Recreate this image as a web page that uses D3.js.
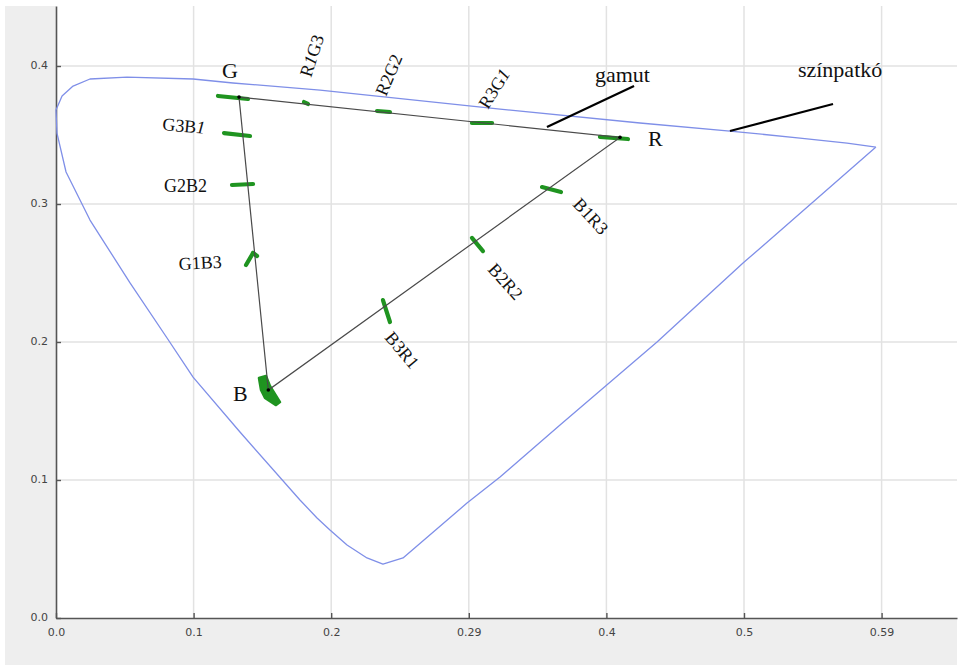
<!DOCTYPE html>
<html>
<head>
<meta charset="utf-8">
<script src="https://cdn.jsdelivr.net/npm/d3@7/dist/d3.min.js"></script>
<style>
  html, body { margin: 0; padding: 0; background: #ffffff; }
  svg { display: block; }
</style>
</head>
<body>
<svg id="chart" width="962" height="665"></svg>
<script>
// ---------------- DATA ----------------
const uTicks = [0, 0.1, 0.2, 0.3, 0.4, 0.5, 0.6];
const uTickLabels = ["0.0", "0.1", "0.2", "0.29", "0.4", "0.5", "0.59"];
const vTicks = [0, 0.1, 0.2, 0.3, 0.4];
const vTickLabels = ["0.0", "0.1", "0.2", "0.3", "0.4"];

// spectral locus ("színpatkó") outline, u / v
const locusU = [0.5959, 0.5749, 0.5407, 0.4898, 0.4244, 0.3227, 0.1919, 0.1286, 0.0996, 0.0516,
                0.0247, 0.0124, 0.0044, 0.0000, 0.0007, 0.0073, 0.0247, 0.0538, 0.0807, 0.0996,
                0.1337, 0.1773, 0.1897, 0.1991, 0.2115, 0.2260, 0.2376, 0.2522, 0.2987, 0.3227,
                0.3663, 0.4368, 0.4993, 0.5959];
const locusV = [0.3413, 0.3442, 0.3478, 0.3529, 0.3587, 0.3688, 0.3826, 0.3877, 0.3906, 0.3920,
                0.3906, 0.3855, 0.3783, 0.3681, 0.3514, 0.3232, 0.2884, 0.2428, 0.2029, 0.1746,
                0.1348, 0.0855, 0.0725, 0.0638, 0.0529, 0.0435, 0.0391, 0.0435, 0.0833, 0.1022,
                0.1399, 0.2000, 0.2572, 0.3413];

// gamut triangle primaries
const primaries = ["G", "R", "B"];
const primaryU = [0.1330, 0.4099, 0.1543];
const primaryV = [0.3775, 0.3483, 0.1652];

// measured (green) marks: short strokes u1,v1 -> u2,v2
const markNames = ["G", "R1G3", "R2G2", "R3G1", "R", "G3B1", "G2B2", "G1B3", "G1B3b", "B1R3", "B2R2", "B3R1"];
const markU1 = [0.1177, 0.1802, 0.2333, 0.3023, 0.3953, 0.1221, 0.1279, 0.1381, 0.1432, 0.3532, 0.3023, 0.2376];
const markV1 = [0.3783, 0.3739, 0.3674, 0.3587, 0.3486, 0.3514, 0.3138, 0.2558, 0.2645, 0.3123, 0.2754, 0.2304];
const markU2 = [0.1395, 0.1831, 0.2427, 0.3169, 0.4157, 0.1410, 0.1432, 0.1432, 0.1461, 0.3670, 0.3103, 0.2427];
const markV2 = [0.3761, 0.3725, 0.3667, 0.3587, 0.3471, 0.3493, 0.3145, 0.2645, 0.2623, 0.3087, 0.2659, 0.2145];

// blue primary measured cluster (blob outline)
const blobU = [0.1475, 0.1526, 0.1555, 0.1628, 0.1599, 0.1519, 0.1490];
const blobV = [0.1739, 0.1754, 0.1681, 0.1565, 0.1543, 0.1594, 0.1652];

// ---------------- LAYOUT ----------------
const W = 962, H = 665;
const plot = { left: 56, top: 6, right: 957, bottom: 618 };
const x = d3.scaleLinear().domain([0, 0.6548]).range([plot.left, plot.right]);
const y = d3.scaleLinear().domain([0, 0.4435]).range([plot.bottom, plot.top]);

const svg = d3.select("#chart");

// outer gray panel
svg.append("rect").attr("x", 5).attr("y", 6).attr("width", plot.right - 5).attr("height", H - 6)
  .attr("fill", "#eeeeee");
// plot area
svg.append("rect").attr("x", plot.left).attr("y", plot.top)
  .attr("width", plot.right - plot.left).attr("height", plot.bottom - plot.top).attr("fill", "#ffffff");

// grid
const grid = svg.append("g");
grid.selectAll("line.gx").data(uTicks.slice(1)).join("line")
  .attr("x1", d => x(d)).attr("x2", d => x(d)).attr("y1", plot.top).attr("y2", plot.bottom)
  .attr("stroke", "#e2e2e2").attr("stroke-width", 1.5);
grid.selectAll("line.gy").data(vTicks.slice(1)).join("line")
  .attr("y1", d => y(d)).attr("y2", d => y(d)).attr("x1", plot.left).attr("x2", plot.right)
  .attr("stroke", "#e2e2e2").attr("stroke-width", 1.5);

// axes
const xAxis = d3.axisBottom(x).tickValues(uTicks).tickSizeInner(-5).tickSizeOuter(0).tickPadding(10)
  .tickFormat((d, i) => uTickLabels[i]);
const yAxis = d3.axisLeft(y).tickValues(vTicks).tickSizeInner(-5).tickSizeOuter(0).tickPadding(8)
  .tickFormat((d, i) => vTickLabels[i]);

const gx = svg.append("g").attr("transform", `translate(0,${plot.bottom})`).call(xAxis);
const gy = svg.append("g").attr("transform", `translate(${plot.left},0)`).call(yAxis);
[gx, gy].forEach(g => {
  g.select(".domain").attr("stroke", "#555").attr("stroke-width", 1.6);
  g.selectAll(".tick line").attr("stroke", "#555").attr("stroke-width", 1.4);
  g.selectAll(".tick text").attr("fill", "#444").attr("font-family", "'DejaVu Sans', sans-serif")
    .attr("font-size", 11);
});
gy.selectAll(".tick text").attr("dy", "0.25em");

// spectral locus
const locusPts = locusU.map((u, i) => [u, locusV[i]]);
svg.append("path").datum(locusPts)
  .attr("d", d3.line().x(d => x(d[0])).y(d => y(d[1])))
  .attr("fill", "none").attr("stroke", "#7f8fe8").attr("stroke-width", 1.3)
  .attr("stroke-linejoin", "round");

// green measured marks
const marks = markNames.map((n, i) => [[markU1[i], markV1[i]], [markU2[i], markV2[i]]]);
svg.append("g").selectAll("path").data(marks).join("path")
  .attr("d", d3.line().x(d => x(d[0])).y(d => y(d[1])))
  .attr("fill", "none").attr("stroke", "#1f9420").attr("stroke-width", 4.2)
  .attr("stroke-linecap", "round");
const blobPts = blobU.map((u, i) => [u, blobV[i]]);
svg.append("path").datum(blobPts)
  .attr("d", d3.line().x(d => x(d[0])).y(d => y(d[1])).curve(d3.curveLinearClosed))
  .attr("fill", "#1f9420").attr("stroke", "#1f9420").attr("stroke-width", 2.5)
  .attr("stroke-linejoin", "round");

// gamut triangle
const triPts = primaryU.map((u, i) => [u, primaryV[i]]);
svg.append("path").datum(triPts)
  .attr("d", d3.line().x(d => x(d[0])).y(d => y(d[1])).curve(d3.curveLinearClosed))
  .attr("fill", "none").attr("stroke", "#4a4a4a").attr("stroke-width", 1.2);
svg.append("g").selectAll("circle").data(triPts).join("circle")
  .attr("cx", d => x(d[0])).attr("cy", d => y(d[1])).attr("r", 1.8).attr("fill", "#000");

// ---------------- ANNOTATIONS ----------------
const serif = "'Liberation Serif', 'Times New Roman', serif";
const ann = svg.append("g").attr("font-family", serif).attr("fill", "#111");

// primary letters: [text, u, v]
const primaryLabels = [["G", 0.1206, 0.3913], ["R", 0.4302, 0.3420], ["B", 0.1286, 0.1572]];
ann.selectAll("text.p").data(primaryLabels).join("text")
  .attr("x", d => x(d[1])).attr("y", d => y(d[2])).attr("font-size", 22).text(d => d[0]);

// mixed-point labels: [parts, u, v, angle]
const mixLabels = [
  [["G3B", "1"], 0.0770, 0.3536, 5],
  [["G2B2"], 0.0785, 0.3087, 0],
  [["G1B3"], 0.0894, 0.2522, -3],
  [["R", "1", "G3"], 0.1853, 0.3913, -72],
  [["R2G2"], 0.2398, 0.3775, -67],
  [["R3G", "1"], 0.3140, 0.3681, -58],
  [["B1R3"], 0.3750, 0.2993, 47],
  [["B2R2"], 0.3132, 0.2522, 48],
  [["B3R1"], 0.2384, 0.2029, 50]
];
mixLabels.forEach(l => {
  const t = ann.append("text")
    .attr("transform", `translate(${x(l[1])},${y(l[2])}) rotate(${l[3]})`)
    .attr("font-size", 18);
  l[0].forEach(p => {
    t.append("tspan").attr("font-style", p === "1" ? "italic" : "normal").text(p);
  });
});

// callouts: [text, labelU, labelV, lineU1, lineV1, lineU2, lineV2]
const callouts = [
  ["gamut", 0.3917, 0.3884, 0.3568, 0.3558, 0.4201, 0.3855],
  ["színpatkó", 0.5392, 0.3920, 0.4898, 0.3529, 0.5647, 0.3725]
];
callouts.forEach(c => {
  ann.append("text").attr("x", x(c[1])).attr("y", y(c[2])).attr("font-size", 22).text(c[0]);
  svg.append("line").attr("x1", x(c[3])).attr("y1", y(c[4])).attr("x2", x(c[5])).attr("y2", y(c[6]))
    .attr("stroke", "#000").attr("stroke-width", 2.2);
});
</script>
</body>
</html>
